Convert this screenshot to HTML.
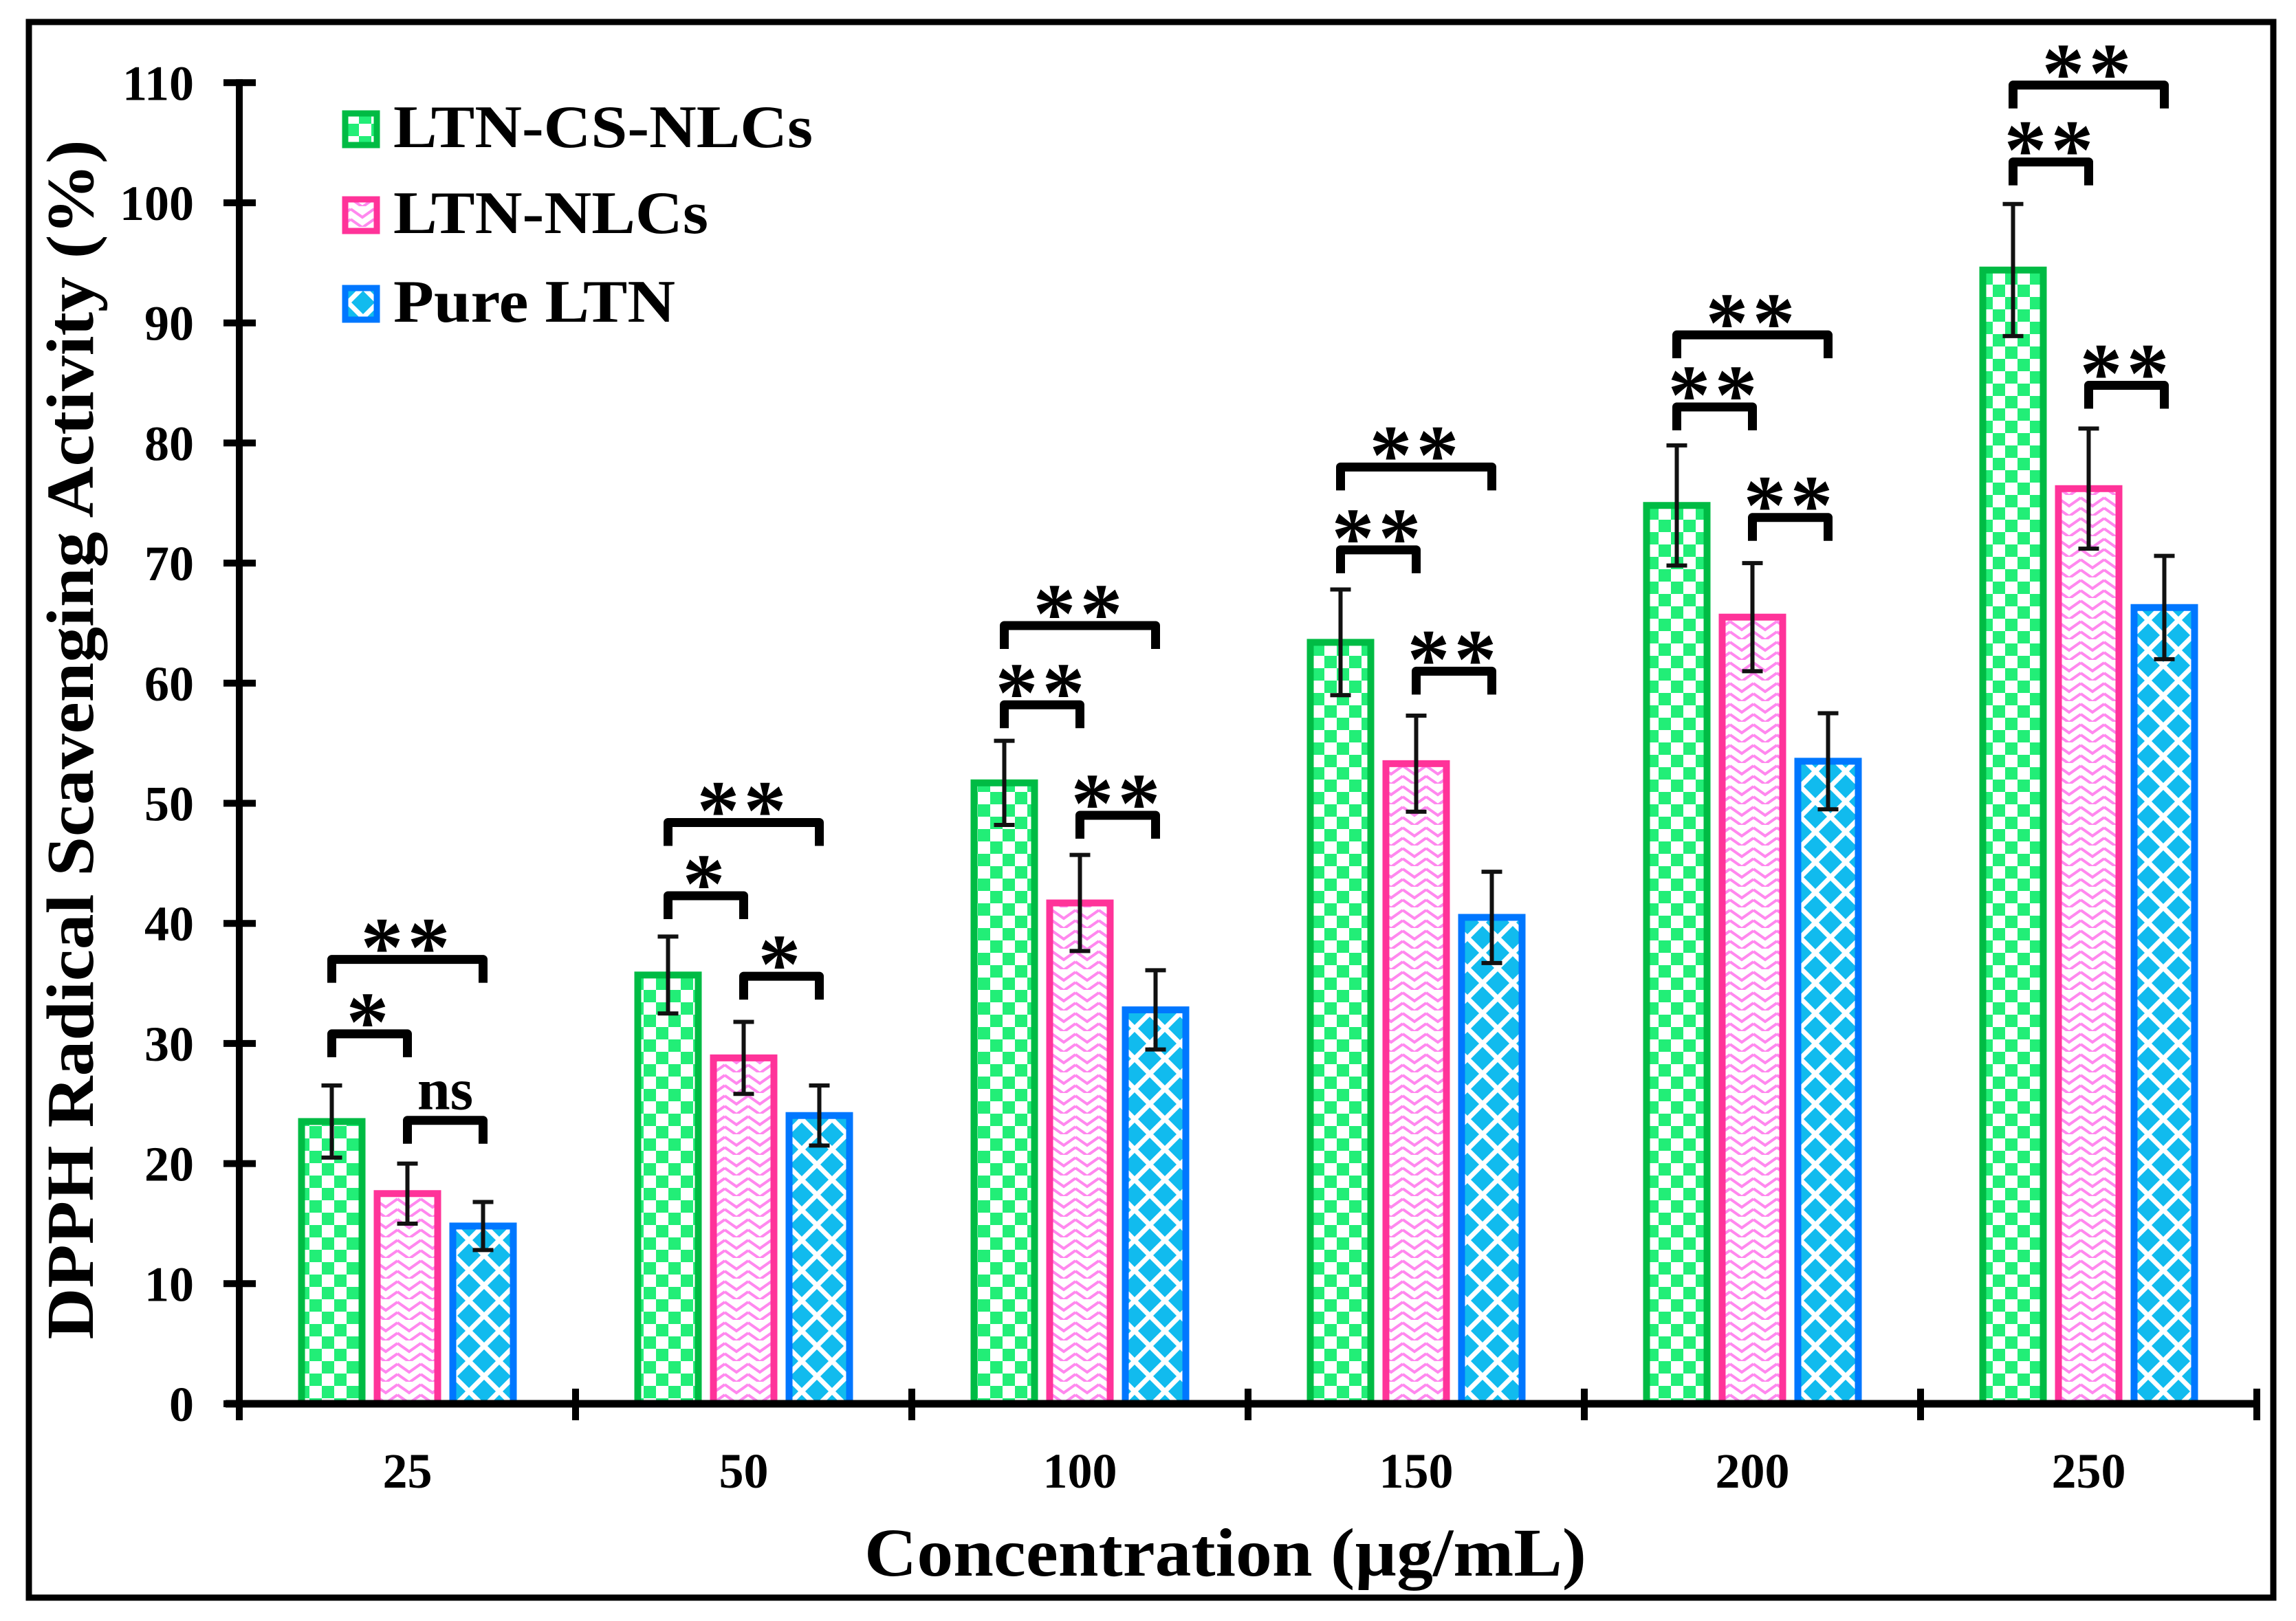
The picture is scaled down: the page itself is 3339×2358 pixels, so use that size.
<!DOCTYPE html>
<html><head><meta charset="utf-8"><style>
html,body{margin:0;padding:0;background:#fff}
svg{display:block}
text{font-family:"Liberation Serif",serif;font-weight:bold;fill:#000}
</style></head><body>
<svg id="chart" width="3339" height="2358" viewBox="0 0 3339 2358" xmlns="http://www.w3.org/2000/svg">
<defs>
<pattern id="pG" width="36" height="36" patternUnits="userSpaceOnUse">
<rect width="36" height="36" fill="#fff"/><rect x="0" y="0" width="18" height="18" fill="#22ee77"/><rect x="18" y="18" width="18" height="18" fill="#22ee77"/></pattern>
<pattern id="pP" width="34" height="30" patternUnits="userSpaceOnUse">
<rect width="34" height="30" fill="#fff"/><path d="M0 4 L17 16 L34 4 M0 19 L17 31 L34 19" stroke="#ff88ee" stroke-width="4" fill="none"/></pattern>
<pattern id="pB" width="44" height="44" patternUnits="userSpaceOnUse">
<rect width="44" height="44" fill="#fff"/><path d="M22 5 L39 22 L22 39 L5 22Z M0 -17 L17 0 L0 17 L-17 0Z M44 -17 L61 0 L44 17 L27 0Z M0 27 L17 44 L0 61 L-17 44Z M44 27 L61 44 L44 61 L27 44Z" fill="#11bbee"/></pattern>
</defs>
<rect x="42" y="32" width="3264" height="2292" fill="none" stroke="#000" stroke-width="9"/>
<g id="plot"></g>
<g>
<rect x="502" y="165" width="46" height="46" fill="url(#pG)" stroke="#00bb44" stroke-width="9"/>
<text x="572" y="214" font-size="88" textLength="610" lengthAdjust="spacingAndGlyphs">LTN-CS-NLCs</text>
<rect x="502" y="290" width="46" height="46" fill="url(#pP)" stroke="#ff3399" stroke-width="9"/>
<text x="572" y="339" font-size="88" textLength="458" lengthAdjust="spacingAndGlyphs">LTN-NLCs</text>
<rect x="502" y="419" width="46" height="46" fill="url(#pB)" stroke="#0077ff" stroke-width="9"/>
<text x="572" y="468" font-size="88" textLength="410" lengthAdjust="spacingAndGlyphs">Pure LTN</text>
</g>
<text x="1782" y="2292" font-size="100" text-anchor="middle" textLength="1050" lengthAdjust="spacingAndGlyphs">Concentration (µg/mL)</text>
<text transform="translate(135,1076) rotate(-90)" font-size="98" text-anchor="middle" textLength="1745" lengthAdjust="spacingAndGlyphs">DPPH Radical Scavenging Activity (%)</text>
</svg>
<script>
const categories = ["25","50","100","150","200","250"];
const csVals = [23.5,35.7,51.7,63.4,74.8,94.4];
const csErr = [3,3.2,3.5,4.4,5,5.5];
const nlcVals = [17.5,28.8,41.7,53.3,65.5,76.2];
const nlcErr = [2.5,3,4,4,4.5,5];
const pureVals = [14.8,24,32.8,40.5,53.5,66.3];
const pureErr = [2,2.5,3.3,3.8,4,4.3];
const yTicks = [0,10,20,30,40,50,60,70,80,90,100,110];
// bracket heights: [cs-vs-pure, cs-vs-nlc, nlc-vs-pure]
const bracketY = [[37,30.8,23.6],[48.4,42.3,35.6],[64.8,58.2,49],[78,71.1,61],[89,83,73.8],[109.8,103.4,84.8]];
const bracketLbl = [["**","*","ns"],["**","*","*"],["**","**","**"],["**","**","**"],["**","**","**"],["**","**","**"]];

const NS="http://www.w3.org/2000/svg";
const g=document.getElementById('plot');
const X0=348, X1=3282, Y0=2042, PPU=17.47;
const cw=(X1-X0)/categories.length;
const y=v=>Y0-v*PPU;
const cx=i=>X0+cw*(i+0.5);
function mk(t,a,p){const e=document.createElementNS(NS,t);for(const k in a)e.setAttribute(k,a[k]);(p||g).appendChild(e);return e;}
const series=[{v:csVals,e:csErr,f:'url(#pG)',s:'#00bb44',n:'cs'},{v:nlcVals,e:nlcErr,f:'url(#pP)',s:'#ff3399',n:'nlc'},{v:pureVals,e:pureErr,f:'url(#pB)',s:'#0077ff',n:'pure'}];
const off=[-110,0,110], bw=88;
categories.forEach((c,i)=>{
  series.forEach((s,k)=>{
    const bx=cx(i)+off[k];
    const r=mk('rect',{x:bx-bw/2,y:y(s.v[i]),width:bw,height:Y0-y(s.v[i]),fill:s.f,stroke:s.s,'stroke-width':10});
    
    
    const hi=y(s.v[i]+s.e[i]), lo=y(s.v[i]-s.e[i]);
    const eb=mk('path',{d:`M${bx} ${hi}V${lo}M${bx-15} ${hi}H${bx+15}M${bx-15} ${lo}H${bx+15}`,stroke:'#111','stroke-width':6,fill:'none'});
    
    
  });
  const pairs=[[0,2],[0,1],[1,2]];
  pairs.forEach((p,j)=>{
    const a=cx(i)+off[p[0]], b=cx(i)+off[p[1]], by=y(bracketY[i][j]);
    const br=mk('path',{d:`M${a} ${by+34}V${by}H${b}V${by+34}`,stroke:'#000','stroke-width':13,fill:'none','stroke-linejoin':'round'});
    
    
    const L=bracketLbl[i][j];
    const t=mk('text',{x:(a+b)/2,y:L==='ns'?by-16:by+24,'font-size':L==='ns'?86:124,'text-anchor':'middle','letter-spacing':L==='ns'?0:6});
    t.textContent=L;
    
    
  });
  const tl=mk('text',{x:cx(i),y:2164,'font-size':72,'text-anchor':'middle'});
  tl.textContent=c;
  
  
});
yTicks.forEach(v=>{
  const t=mk('line',{x1:325,x2:372,y1:y(v),y2:y(v),stroke:'#000','stroke-width':10});
  
  
  const l=mk('text',{x:282,y:y(v)+25,'font-size':72,'text-anchor':'end'});
  l.textContent=v;
  
  
});
for(let i=0;i<=categories.length;i++){
  const xx=X0+cw*i;
  const t=mk('line',{x1:xx,x2:xx,y1:Y0-22,y2:Y0+24,stroke:'#000','stroke-width':10});
  
  
}
const ya=mk('line',{x1:X0,x2:X0,y1:y(110)-5,y2:Y0+24,stroke:'#000','stroke-width':10});


const xa=mk('line',{x1:X0-20,x2:X1,y1:Y0,y2:Y0,stroke:'#000','stroke-width':11});


</script>
</body></html>
